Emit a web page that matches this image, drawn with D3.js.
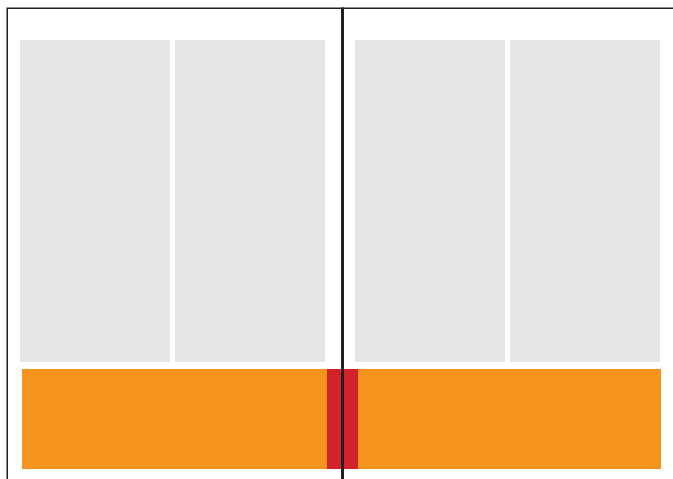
<!DOCTYPE html>
<html>
<head>
<meta charset="utf-8">
<script src="https://cdn.jsdelivr.net/npm/d3@7"></script>
<style>
  html, body { margin: 0; padding: 0; background: #fff; }
  svg { display: block; }
</style>
</head>
<body>
<svg id="spread_svg" width="673" height="479"></svg>
<script>
// spread layout, in tenths of a unit (mm-ish)
const pages = ["verso", "recto"];
const columns = ["col 1", "col 2"];
const pageWidth = 33.5;          // each page
const columnArea = [1.25, 31.75]; // inside a page
const columnGap = 0.5;
const bodyRows = [4.0, 36.2];     // grey text columns, top / bottom
const footerRows = [36.9, 46.9];  // coloured strip, top / bottom
const footerExtent = [1.45, 65.35]; // across the spread
const gutterBand = [31.95, 35.05];  // red part of the strip

document.addEventListener('DOMContentLoaded', function () {
    const svg = d3.select("#spread_svg");
    const width = +svg.attr('width');
    const height = +svg.attr('height');

    const x = d3.scaleLinear().domain([0, 67]).range([7.5, 677.5]);
    const y = d3.scaleLinear().domain([0, 47.9]).range([0, 479]);

    const pageScale = d3.scaleBand().domain(pages).range([0, pageWidth * pages.length]);
    const colScale = d3.scaleBand().domain(columns)
        .range(columnArea)
        .paddingInner(columnGap / ((columnArea[1] - columnArea[0] + columnGap) / columns.length));

    // grey column blocks
    const cells = [];
    pages.forEach(p => columns.forEach(c => cells.push({page: p, col: c})));
    svg.append('g').selectAll('rect')
        .data(cells)
        .join('rect')
        .attr('x', d => x(pageScale(d.page) + colScale(d.col)))
        .attr('y', y(bodyRows[0]))
        .attr('width', d => x(pageScale(d.page) + colScale(d.col) + colScale.bandwidth()) - x(pageScale(d.page) + colScale(d.col)))
        .attr('height', y(bodyRows[1]) - y(bodyRows[0]))
        .attr('fill', '#e5e6e7');

    // footer strip
    const strip = [
        {name: "strip", from: footerExtent[0], to: footerExtent[1], color: '#f7941d'},
        {name: "gutter", from: gutterBand[0], to: gutterBand[1], color: '#d2232a'}
    ];
    svg.append('g').selectAll('rect')
        .data(strip)
        .join('rect')
        .attr('x', d => x(d.from))
        .attr('y', y(footerRows[0]))
        .attr('width', d => x(d.to) - x(d.from))
        .attr('height', y(footerRows[1]) - y(footerRows[0]))
        .attr('fill', d => d.color);

    // page frame
    svg.append('path')
        .attr('d', `M${x(0) - 0.25},${height + 2}V${y(0.825)}H${width + 2}`)
        .attr('fill', 'none')
        .attr('stroke', '#231f20')
        .attr('stroke-width', 1.5);

    // spine
    const spineX = x(pageScale(pages[1]));
    svg.append('line')
        .attr('x1', spineX).attr('x2', spineX)
        .attr('y1', y(0.75)).attr('y2', height)
        .attr('stroke', '#231f20')
        .attr('stroke-width', 3);
});
</script>
</body>
</html>
